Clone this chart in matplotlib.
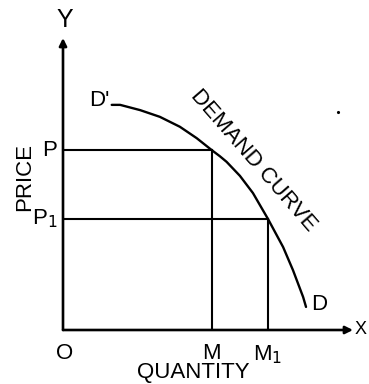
import matplotlib
matplotlib.use("Agg")
import matplotlib.pyplot as plt

plt.rcParams['font.family'] = ['Liberation Sans', 'DejaVu Sans']

# demand curve (quantity, price)
quantity = [1.68, 1.97, 2.66, 3.34, 4.03, 4.61, 5.13, 5.41, 5.64, 6.10,
            6.55, 7.07, 7.59, 7.93, 8.28, 8.38]
price = [7.71, 7.71, 7.53, 7.30, 6.96, 6.57, 6.16, 5.95, 5.76, 5.28,
         4.69, 3.80, 2.84, 2.05, 1.13, 0.79]

# the two price / quantity pairs
p_levels = [6.16, 3.80]
m_levels = [5.13, 7.07]
p_labels = ['P', 'P$_1$']
m_labels = ['M', 'M$_1$']

fig = plt.figure(figsize=(3.69, 3.84), dpi=100)
ax = fig.add_axes([63/369, 1 - 330/384, 290/369, 292/384])
ax.set_xlim(0, 10)
ax.set_ylim(0, 10)
ax.axis('off')

# axes with arrows
for end in [(10, 0), (0, 10)]:
    ax.annotate('', xy=end, xytext=(0, 0),
                arrowprops=dict(arrowstyle='-|>', lw=1.9, color='black',
                                mutation_scale=11, shrinkA=0, shrinkB=0),
                annotation_clip=False)

ax.plot(quantity, price, color='black', lw=1.7, solid_capstyle='round')

for p, m in zip(p_levels, m_levels):
    ax.plot([0, m], [p, p], color='black', lw=1.5)
    ax.plot([m, m], [0, p], color='black', lw=1.5)

fs = 16
for p, lab in zip(p_levels, p_labels):
    ax.text(-0.2, p, lab, ha='right', va='center', fontsize=fs)
for m, lab in zip(m_levels, m_labels):
    ax.text(m, -0.45, lab, ha='center', va='top', fontsize=fs)

ax.text(0.05, -0.45, 'O', ha='center', va='top', fontsize=fs)
ax.text(4.48, -1.1, 'QUANTITY', ha='center', va='top', fontsize=fs)
ax.text(-1.33, 5.24, 'PRICE', ha='center', va='center', rotation=90, fontsize=fs)
ax.text(0.05, 10.6, 'Y', ha='center', va='center', fontsize=18)
ax.text(10.05, 0, 'X', ha='left', va='center', fontsize=13)
ax.text(1.62, 7.5, "D'", ha='right', va='bottom', fontsize=fs)
ax.text(8.55, 0.89, 'D', ha='left', va='center', fontsize=fs)
ax.text(6.55, 5.79, 'DEMAND CURVE', ha='center', va='center',
        rotation=-49, fontsize=fs, rotation_mode='anchor')
ax.plot([9.47], [7.48], marker='.', color='black', markersize=2.5)

fig.savefig('out.png', dpi=100)
